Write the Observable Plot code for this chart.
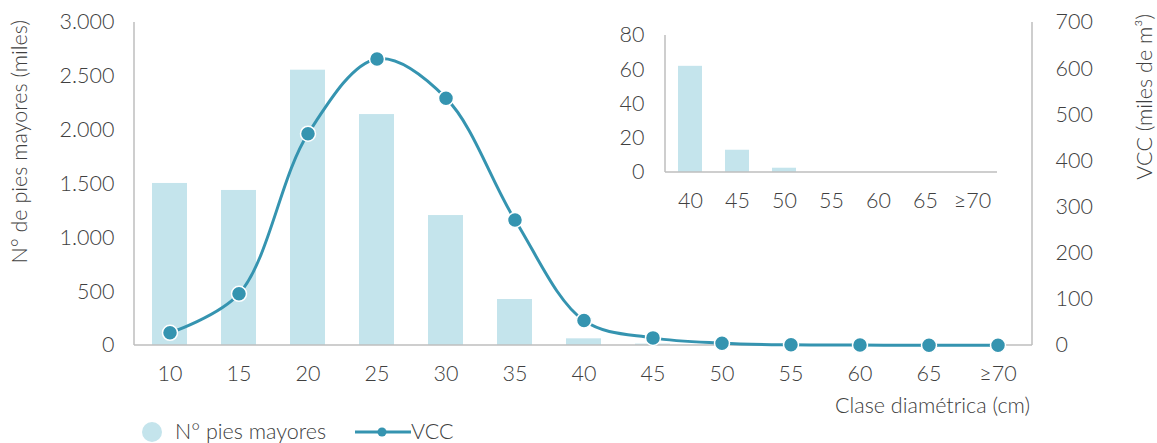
<!DOCTYPE html>
<html><head><meta charset="utf-8">
<script src="https://cdn.jsdelivr.net/npm/d3@7"></script>
<script src="https://cdn.jsdelivr.net/npm/@observablehq/plot@0.6"></script>
<style>
body{margin:0;background:#fff;font-family:Lato,"Open Sans",sans-serif;font-weight:300;color:#404040;}
#wrap{position:relative;width:1157px;height:443px;overflow:hidden;}
#wrap > svg{position:absolute;}
.t{position:absolute;white-space:nowrap;font-size:21.5px;line-height:1;}
.vert{writing-mode:vertical-rl;transform:rotate(180deg);}
.leg{position:absolute;top:421px;font-size:21.5px;line-height:21px;height:21px;white-space:nowrap;display:flex;align-items:center;}
.leg svg{flex:none;}
</style></head><body><div id="wrap"></div>
<script>
// ---- data ----
const classes = ["10","15","20","25","30","35","40","45","50","55","60","65","≥70"];
const piesMayores = [1505,1440,2557,2145,1207,427,62,13,2.5,0,0,0,0];
const vcc = [27.5,112,459,621,536,272,54,16.5,5,1.5,1,0.5,0.5];
const insetClasses = ["40","45","50","55","60","65","≥70"];
const insetPies = [62,13,2.5,0,0,0,0];
const leftTicks = [0,500,1000,1500,2000,2500,3000];
const rightTicks = [0,100,200,300,400,500,600,700];
const insetTicks = [0,20,40,60,80];
const leftTitle = "N° de pies mayores (miles)";
const rightTitle = "VCC (miles de m³)";
const xTitle = "Clase diamétrica (cm)";
const legendBar = "N° pies mayores";
const legendLine = "VCC";

const barColor = "#c4e4ec", lineColor = "#3594b0", axisColor = "#bfbfbf";
const k = 3000 / 700;
const fmt = d3.formatLocale({decimal:",",thousands:".",grouping:[3],currency:["","€"]}).format(",");

const main = classes.map((c,i)=>({c, pies: piesMayores[i], vcc: vcc[i], vs: vcc[i]*k}));
const inset = insetClasses.map((c,i)=>({c, pies: insetPies[i]}));

function frameLines(sides){
  return (index, scales, values, dims) => {
    const l = dims.marginLeft, r = dims.width - dims.marginRight, t = dims.marginTop, b = dims.height - dims.marginBottom;
    let d = "";
    if (sides.includes("left")) d += `M${l},${t}V${b}`;
    if (sides.includes("bottom")) d += `M${l},${b}H${r}`;
    if (sides.includes("right")) d += `M${r},${t}V${b}`;
    const p = document.createElementNS("http://www.w3.org/2000/svg","path");
    p.setAttribute("d", d); p.setAttribute("stroke", axisColor); p.setAttribute("fill","none"); p.setAttribute("stroke-width","1.5");
    return p;
  };
}

const style = {fontFamily:"Lato, 'Open Sans', sans-serif", fontSize:"21.5px", fontWeight:300, color:"#404040", background:"transparent"};

const plot = Plot.plot({
  width: 1157, height: 415,
  marginLeft: 134, marginRight: 125, marginTop: 22, marginBottom: 70,
  style,
  x: {type:"band", domain: classes, paddingInner: 0.5, paddingOuter: 0.25},
  y: {domain:[0,3000]},
  marks: [
    Plot.barY(main, {x:"c", y:"pies", fill: barColor}),
    frameLines(["left","bottom","right"]),
    Plot.axisX({tickSize:0, tickPadding:20, label:null}),
    Plot.axisY({anchor:"left", ticks: leftTicks, tickFormat: fmt, tickSize:0, tickPadding:20, label:null}),
    Plot.axisY({anchor:"right", ticks: rightTicks.map(v=>v*k), tickFormat: v=>Math.round(v/k), tickSize:0, tickPadding:23, label:null}),
    Plot.line(main, {x:"c", y:"vs", stroke: lineColor, strokeWidth: 3, curve:"catmull-rom"}),
    Plot.dot(main, {x:"c", y:"vs", r:7.5, fill: lineColor, stroke:"white", strokeWidth:1.5})
  ]
});
plot.style.left = "0px"; plot.style.top = "0px";

const insetPlot = Plot.plot({
  width: 420, height: 220,
  marginLeft: 65, marginRight: 23, marginTop: 35, marginBottom: 48,
  style,
  x: {type:"band", domain: insetClasses, paddingInner: 0.5, paddingOuter: 0.25},
  y: {domain:[0,80]},
  marks: [
    Plot.barY(inset, {x:"c", y:"pies", fill: barColor}),
    frameLines(["left","bottom"]),
    Plot.axisX({tickSize:0, tickPadding:20, label:null}),
    Plot.axisY({ticks: insetTicks, tickSize:0, tickPadding:21, label:null})
  ]
});
insetPlot.style.left = "600px"; insetPlot.style.top = "0px";

const wrap = document.getElementById("wrap");
wrap.appendChild(plot);
wrap.appendChild(insetPlot);

function addText(html, css, cls){
  const d = document.createElement("div");
  d.className = cls; d.textContent = html; Object.assign(d.style, css); wrap.appendChild(d); return d;
}
addText(leftTitle, {left:"9px", top:"20px"}, "t vert");
addText(rightTitle, {left:"1134px", top:"14px"}, "t vert");
addText(xTitle, {right:"127px", top:"395px"}, "t");

// legend
const leg = document.createElement("div");
leg.className = "leg"; leg.style.left = "142px";
leg.innerHTML = `<svg width="20" height="20"><circle cx="10" cy="10" r="10" fill="${barColor}"/></svg><span style="margin-left:13px">${legendBar}</span>`;
wrap.appendChild(leg);
const leg2 = document.createElement("div");
leg2.className = "leg"; leg2.style.left = "355px";
leg2.innerHTML = `<svg width="56" height="20"><line x1="0" x2="56" y1="10" y2="10" stroke="${lineColor}" stroke-width="3"/><circle cx="27" cy="10" r="4.5" fill="${lineColor}"/></svg><span>${legendLine}</span>`;
wrap.appendChild(leg2);
</script>
</body></html>
